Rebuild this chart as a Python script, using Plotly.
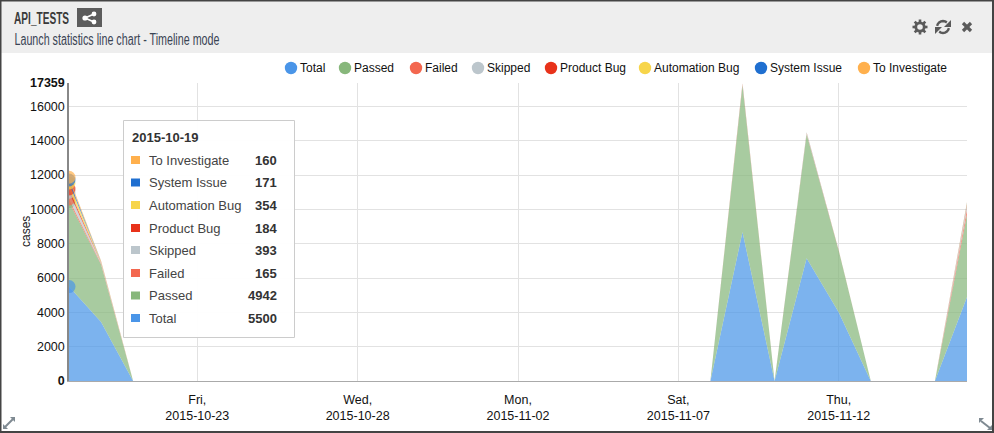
import math
import plotly.graph_objects as go

# ---------- data ----------
dates = ["2015-10-19", "2015-10-20", "2015-10-21", "2015-11-08", "2015-11-09",
         "2015-11-10", "2015-11-11", "2015-11-12", "2015-11-13", "2015-11-15", "2015-11-16"]
series_names = ["Total", "Passed", "Failed", "Skipped", "Product Bug",
                "Automation Bug", "System Issue", "To Investigate"]
total = [5500, 3430, 0, 0, 8680, 0, 7150, 4010, 0, 0, 4900]
passed = [4942, 3350, 0, 0, 8540, 0, 7230, 3580, 0, 0, 4800]
failed = [165, 50, 0, 0, 30, 0, 30, 10, 0, 0, 300]
skipped = [393, 60, 0, 0, 40, 0, 40, 5, 0, 0, 220]
product_bug = [184, 30, 0, 0, 25, 0, 15, 5, 0, 0, 60]
automation_bug = [354, 40, 0, 0, 20, 0, 15, 5, 0, 0, 60]
system_issue = [171, 20, 0, 0, 12, 0, 5, 2, 0, 0, 40]
to_investigate = [160, 20, 0, 0, 12, 0, 5, 3, 0, 0, 40]
series_values = [total, passed, failed, skipped, product_bug,
                 automation_bug, system_issue, to_investigate]
series_colors = ["#4a95e8", "#87b77b", "#f3674f", "#bcc6cc", "#e8321a",
                 "#f7d54a", "#1f6fd0", "#ffb04d"]
y_ticks = [0, 2000, 4000, 6000, 8000, 10000, 12000, 14000, 16000, 17359]
y_labels = ["<b>0</b>", "2000", "4000", "6000", "8000", "10000", "12000", "14000", "16000", "<b>17359</b>"]
x_ticks = ["2015-10-23", "2015-10-28", "2015-11-02", "2015-11-07", "2015-11-12"]
x_labels = ["Fri,<br>2015-10-23", "Wed,<br>2015-10-28", "Mon,<br>2015-11-02",
            "Sat,<br>2015-11-07", "Thu,<br>2015-11-12"]
title_text = "API_TESTS"
subtitle_text = "Launch statistics line chart - Timeline mode"
tooltip_date = "2015-10-19"

# ---------- geometry helpers (page pixels -> paper fractions) ----------
W, H = 994, 433
L, R, T, B = 69, 967, 83, 381
def px(x): return (x - L) / (R - L)
def py(y): return (B - y) / (B - T)

FONT = "Liberation Sans, Arial, sans-serif"

def rgba(hex_color, a):
    return f"rgba({int(hex_color[1:3],16)},{int(hex_color[3:5],16)},{int(hex_color[5:7],16)},{a})"

fig = go.Figure()
for name, vals, col in zip(series_names, series_values, series_colors):
    sizes = [13] + [0] * (len(vals) - 1)
    fig.add_trace(go.Scatter(
        x=dates, y=vals, name=name, stackgroup="one", mode="lines+markers",
        line=dict(color=rgba(col, 0.2), width=0),
        marker=dict(color=col, size=sizes, line=dict(width=0)),
        fillcolor=rgba(col, 0.72), showlegend=False, hoverinfo="x+y+name",
    ))

shapes, ann = [], []

def rect(x0, y0, x1, y1, fill, line=None, lw=1, layer="above"):
    shapes.append(dict(type="rect", xref="paper", yref="paper", layer=layer,
                       x0=px(x0), x1=px(x1), y0=py(y0), y1=py(y1), fillcolor=fill,
                       line=dict(color=line or "rgba(0,0,0,0)", width=lw if line else 0)))
def circle(cx, cy, r, fill, line=None, lw=0):
    shapes.append(dict(type="circle", xref="paper", yref="paper", layer="above",
                       x0=px(cx - r), x1=px(cx + r), y0=py(cy - r), y1=py(cy + r), fillcolor=fill,
                       line=dict(color=line or "rgba(0,0,0,0)", width=lw)))
def seg(x0, y0, x1, y1, color, lw):
    shapes.append(dict(type="line", xref="paper", yref="paper", layer="above",
                       x0=px(x0), x1=px(x1), y0=py(y0), y1=py(y1), line=dict(color=color, width=lw)))
def path(points, color, fill=None, lw=0):
    d = "M" + " L".join(f"{px(a):.5f},{py(b):.5f}" for a, b in points)
    if fill:
        d += " Z"
    shapes.append(dict(type="path", xref="paper", yref="paper", layer="above", path=d,
                       fillcolor=fill or "rgba(0,0,0,0)", line=dict(color=color, width=lw)))
def text(x, y, s, size=12, color="#222", anchor="left", family=FONT, angle=0):
    ann.append(dict(xref="paper", yref="paper", x=px(x), y=py(y), text=s, showarrow=False,
                    xanchor=anchor, yanchor="middle", borderpad=0, textangle=angle,
                    font=dict(family=family, size=size, color=color)))

# header band and frame
rect(0, 0, W, 53, "#eeeeee")
rect(0.5, 0.5, W - 1, H - 1, "rgba(0,0,0,0)", "#444444", 2)
text(14 + 55 / 2, 18, f"<b>{title_text}</b>", 16, "#3a3a3a", anchor="center")
text(14 + 205 / 2, 39, subtitle_text, 16, "#3a4454", anchor="center")

# share button
rect(77, 8, 102, 27, "#5c5c5c")
seg(85, 18, 94, 14, "white", 1.6)
seg(85, 18, 94, 22, "white", 1.6)
circle(85, 18, 2.6, "white")
circle(94, 14, 2.4, "white")
circle(94, 22, 2.4, "white")

# gear
IC = "#5a5a5a"
circle(920, 27, 4.2, "rgba(0,0,0,0)", IC, 2.8)
for i in range(8):
    a = i * math.pi / 4
    seg(920 + 5 * math.cos(a), 27 + 5 * math.sin(a), 920 + 7.5 * math.cos(a), 27 + 7.5 * math.sin(a), IC, 2.6)
# refresh
arc1 = [(943 + 6 * math.cos(math.radians(t)), 27 + 6 * math.sin(math.radians(t))) for t in range(190, 330, 20)]
arc2 = [(943 + 6 * math.cos(math.radians(t)), 27 + 6 * math.sin(math.radians(t))) for t in range(10, 150, 20)]
path(arc1, IC, lw=2.4)
path(arc2, IC, lw=2.4)
path([(951, 20), (951, 27), (944, 27)], IC, fill=IC)
path([(935, 34), (935, 27), (942, 27)], IC, fill=IC)
# close
seg(963, 23, 971, 31, IC, 3.2)
seg(971, 23, 963, 31, IC, 3.2)

# resize arrows
AR = "#7f8a92"
seg(5, 427, 14, 418, AR, 2)
path([(3, 429), (3, 424), (8, 429)], AR, fill=AR)
path([(15, 417), (15, 422), (10, 417)], AR, fill=AR)
seg(981, 421, 990, 428, AR, 2)
path([(979, 418), (984, 418), (979, 423)], AR, fill=AR)
path([(992, 430), (987, 430), (992, 425)], AR, fill=AR)

# legend
legend_x = [291, 345, 416, 478, 551, 645, 761, 864]
for cx, name, col in zip(legend_x, series_names, series_colors):
    circle(cx, 68, 6.2, col)
    text(cx + 8, 68, name, 12, "#111")

# y axis title
text(26, 232, "cases", 12, "#222", anchor="center", angle=-90)

# tooltip
rect(123.5, 120.5, 294.5, 337.5, "rgba(255,255,255,0.96)", "#cccccc", 1)
text(131, 137, f"<b>{tooltip_date}</b>", 13, "#333")
row_y = [160, 182.5, 205, 228, 250, 273, 295.5, 318]
rows = list(zip(series_names, series_values, series_colors))[::-1]
for y, (name, vals, col) in zip(row_y, rows):
    rect(131, y - 4, 140, y + 4, col)
    text(148, y, name, 13, "#444")
    text(278, y, f"<b>{vals[0]}</b>", 13, "#333", anchor="right")

fig.update_layout(
    width=W, height=H, autosize=False,
    margin=dict(l=L, r=W - R, t=T, b=H - B, pad=0),
    paper_bgcolor="white", plot_bgcolor="white", showlegend=False,
    font=dict(family=FONT, size=12, color="#111"),
    shapes=shapes, annotations=ann,
    xaxis=dict(type="date", range=["2015-10-19", "2015-11-16"], tickvals=x_ticks, ticktext=x_labels,
               automargin=False,
               showgrid=True, gridcolor="#e2e2e2", gridwidth=1, showline=True, linecolor="#aaaaaa",
               linewidth=1, ticks="outside", ticklen=7, tickcolor="rgba(0,0,0,0)", zeroline=False,
               tickangle=0, tickfont=dict(size=12.5, color="#111")),
    yaxis=dict(range=[0, 17359], tickvals=y_ticks, ticktext=y_labels, showgrid=True,
               automargin=False,
               gridcolor="#e2e2e2", gridwidth=1, showline=True, linecolor="#888888", linewidth=1.5,
               zeroline=False, ticks="", tickfont=dict(size=12.5, color="#111")),
)

post = """
document.body.style.margin='0';document.body.style.overflow='hidden';
var gd=document.getElementById('{plot_id}');
var widths={'API_TESTS':55,'Launch statistics line chart - Timeline mode':205};
gd.querySelectorAll('.annotation-text').forEach(function(t){
  var w=widths[t.textContent];
  if(w){t.setAttribute('textLength',w);t.setAttribute('lengthAdjust','spacingAndGlyphs');}
});
"""
fig.write_html("out.html", config=dict(displayModeBar=False), post_script=post)
